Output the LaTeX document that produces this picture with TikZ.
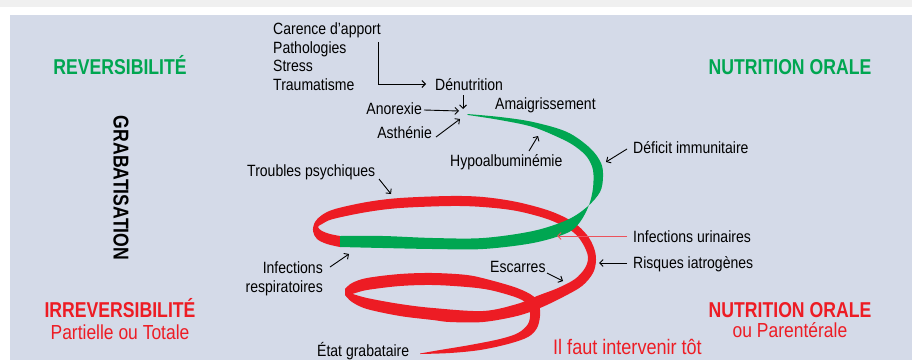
\documentclass[tikz,border=0pt]{standalone}
\usepackage{fontspec}
\setmainfont{Liberation Sans}[FakeStretch=0.86]
\usetikzlibrary{arrows.meta}
\definecolor{panelbg}{RGB}{212,218,232}
\definecolor{stripgray}{RGB}{240,240,240}
\definecolor{ribgreen}{RGB}{0,166,81}
\definecolor{ribred}{RGB}{237,28,36}
\definecolor{arrred}{RGB}{236,82,92}
\newfontfamily\bigbold{Liberation Sans Bold}[FakeStretch=0.82]
\begin{document}
\begin{tikzpicture}[x=1pt,y=-1pt,
  lbl/.style={inner sep=0pt, font=\fontsize{16.3}{18}\selectfont, text=black},
  big/.style={inner sep=0pt, font=\fontsize{21.5}{24}\bigbold},
  sub/.style={inner sep=0pt, font=\fontsize{20.3}{24}\selectfont},
  arr/.style={line width=0.9pt, -{Straight Barb[length=3.5pt,width=7pt]}},
  rib/.style={smooth, tension=0.55}]
\useasboundingbox (0,0) rectangle (912,360);
% background
\fill[stripgray] (0,0) rectangle (912,7);
\fill[white] (0,7) rectangle (912,15);
\fill[panelbg] (10,15) rectangle (912,360);

% ---- ribbon: red back of loop 3 + tail
\fill[ribred] plot[rib] coordinates {(345,289) (352,283) (367,278) (400,274) (433,273) (467,275) (490,280) (517,288) (533,296) (539,305) (540,316) (537,328) (528,337) (508,344) (480,350) (450,353) (420,354)}
  -- plot[rib] coordinates {(420,353.5) (440,350) (470,345) (500,339) (518,333) (528,324) (530,313) (526,303) (515,297) (490,290) (467,287) (433,285) (400,286) (367,290) (352,294) (345,295)} -- cycle;
% ---- ribbon: red hook, back of loop 2, descent, front of loop 3
\fill[ribred] plot[rib] coordinates {(340,247) (327,244) (317,239) (313,231) (315,222) (322,215) (335,209) (367,202) (400,198) (450,196) (483,197) (517,202) (550,211) (573,222) (587,235) (594,248) (596,260) (593,273) (582,286) (563,297) (540,308) (517,316) (483,322) (450,322) (433,320) (400,316) (367,309) (352,302) (345,295)}
  -- plot[rib] coordinates {(350,293) (367,298) (400,304) (433,308) (483,311) (517,304) (537,296) (558,288) (575,279) (585,268) (588,257) (583,244) (573,232) (550,220) (517,211) (483,207) (450,206) (400,208) (367,212) (333,219) (322,224) (318,227) (322,231) (330,234) (340,236)} -- cycle;
% ---- ribbon: green first loop
\fill[ribgreen] plot[rib] coordinates {(467,114) (500,117) (533,122) (567,132) (590,148) (601,163) (603,177) (600,192) (587,207) (567,220) (533,231) (483,238) (433,238) (383,236) (340,236)}
  -- plot[rib] coordinates {(340,247) (383,248) (433,249) (483,249) (533,243) (567,233) (580,222) (589,205) (593,188) (593,170) (587,157) (576,147) (562,139) (533,127) (500,120) (468,115)} -- cycle;

% ---- titles
\node[big, text=ribgreen, anchor=base] (rev) at (120,74) {REVERSIBILITÉ};
\node[big, text=ribgreen, anchor=base] (nor1) at (790,74) {NUTRITION ORALE};
\node[big, text=ribred, anchor=base] (irr) at (120,317) {IRREVERSIBILITÉ};
\node[sub, text=ribred, anchor=base] (part) at (120,339) {Partielle ou Totale};
\node[big, text=ribred, anchor=base] (nor2) at (790,317) {NUTRITION ORALE};
\node[sub, text=ribred, anchor=base] (paren) at (790,337) {ou Parentérale};
\node[big, rotate=-90] (grab) at (121,188) {GRABATISATION};
\node[sub, text=ribred, anchor=base west, font=\fontsize{21}{24}\selectfont] (faut) at (553,354) {Il faut intervenir tôt};

% ---- labels
\node[lbl, anchor=base west] (carence) at (273,34.5) {Carence d’apport};
\node[lbl, anchor=base west] (patho) at (273,53) {Pathologies};
\node[lbl, anchor=base west] (stress) at (273,71.5) {Stress};
\node[lbl, anchor=base west] (trauma) at (273,90) {Traumatisme};
\node[lbl, anchor=base west] (denut) at (435,90) {Dénutrition};
\node[lbl, anchor=base east] (anor) at (422,114) {Anorexie};
\node[lbl, anchor=base east] (asth) at (432,138) {Asthénie};
\node[lbl, anchor=base west] (amaig) at (495,109) {Amaigrissement};
\node[lbl, anchor=base west] (hypo) at (450,166) {Hypoalbuminémie};
\node[lbl, anchor=base west] (defic) at (633,153) {Déficit immunitaire};
\node[lbl, anchor=base west] (troub) at (247,176) {Troubles psychiques};
\node[lbl, anchor=base west] (urin) at (633,242) {Infections urinaires};
\node[lbl, anchor=base west] (risq) at (633,268) {Risques iatrogènes};
\node[lbl, anchor=base east] (infr1) at (323,273) {Infections};
\node[lbl, anchor=base east] (infr2) at (323,292) {respiratoires};
\node[lbl, anchor=base west] (escar) at (490,272) {Escarres};
\node[lbl, anchor=base west] (etat) at (317,356) {État grabataire};

% ---- arrow end points
\coordinate (elbA) at (378,42);
\coordinate (elbB) at (426,84);
\coordinate (dnA) at (463,95);
\coordinate (dnB) at (463,109);
\coordinate (anA) at (424,110);
\coordinate (anB) at (459,111);
\coordinate (asA) at (436,137);
\coordinate (asB) at (460,119);
\coordinate (hyA) at (529,151);
\coordinate (hyB) at (538,136);
\coordinate (deA) at (627,149);
\coordinate (deB) at (606,162);
\coordinate (trA) at (379,179);
\coordinate (trB) at (391,194);
\coordinate (urA) at (627,236);
\coordinate (urB) at (557,236);
\coordinate (riA) at (627,263);
\coordinate (riB) at (599,263);
\coordinate (irA) at (330,267);
\coordinate (irB) at (349,254);
\coordinate (esA) at (547,273);
\coordinate (esB) at (563,281);

% ---- arrows
\draw[arr] (elbA) |- (elbB);
\draw[arr] (dnA) -- (dnB);
\draw[arr] (anA) -- (anB);
\draw[arr] (asA) -- (asB);
\draw[arr] (hyA) -- (hyB);
\draw[arr] (deA) -- (deB);
\draw[arr] (trA) -- (trB);
\draw[arr, arrred] (urA) -- (urB);
\draw[arr] (riA) -- (riB);
\draw[arr] (irA) -- (irB);
\draw[arr] (esA) -- (esB);
\end{tikzpicture}
\end{document}
